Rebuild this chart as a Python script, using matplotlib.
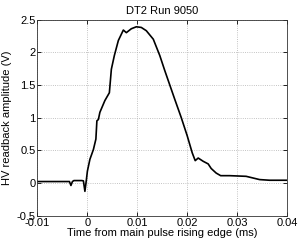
import matplotlib
matplotlib.use("Agg")
import matplotlib.pyplot as plt

plt.rcParams.update({
    "font.family": ["Liberation Sans", "DejaVu Sans"],
    "font.size": 8,
})

# readback trace (time in ms, amplitude in V)
time_ms = [-0.01, -0.0036, -0.0033, -0.0030, -0.0027, -0.0011, -0.0008,
           -0.0005, -0.0002, 0.0, 0.0005, 0.0012, 0.0017, 0.0019, 0.0022,
           0.0025, 0.0035, 0.0044, 0.0048, 0.0054, 0.0062, 0.0072, 0.0078,
           0.0088, 0.0098, 0.0108, 0.0118, 0.0132, 0.0145, 0.0155, 0.0175,
           0.0188, 0.0200, 0.0210, 0.0216, 0.0222, 0.0232, 0.0242, 0.0248,
           0.0258, 0.0267, 0.0285, 0.0318, 0.0345, 0.0365, 0.0400]
amp_v = [0.02, 0.02, -0.04, 0.02, 0.035, 0.035, 0.03,
         -0.13, 0.05, 0.18, 0.36, 0.51, 0.67, 0.95, 0.97,
         1.08, 1.26, 1.38, 1.74, 1.95, 2.18, 2.34, 2.30,
         2.36, 2.39, 2.38, 2.33, 2.20, 1.95, 1.72, 1.28,
         1.00, 0.72, 0.46, 0.34, 0.38, 0.33, 0.29, 0.22,
         0.15, 0.11, 0.11, 0.10, 0.05, 0.04, 0.04]

x_ticks = [-0.01, 0, 0.01, 0.02, 0.03, 0.04]
x_labels = ["-0.01", "0", "0.01", "0.02", "0.03", "0.04"]
y_ticks = [-0.5, 0, 0.5, 1, 1.5, 2, 2.5]
y_labels = ["-0.5", "0", "0.5", "1", "1.5", "2", "2.5"]

fig = plt.figure(figsize=(2.99, 2.42), dpi=100)
ax = fig.add_axes([0.1254, 0.1095, 0.8346, 0.8095])

ax.plot(time_ms, amp_v, color="black", linewidth=1.2)

ax.set_xlim(-0.01, 0.04)
ax.set_ylim(-0.5, 2.5)
ax.set_xticks(x_ticks)
ax.set_xticklabels(x_labels)
ax.set_yticks(y_ticks)
ax.set_yticklabels(y_labels)

ax.tick_params(direction="in", length=3, width=0.6, top=True, right=True,
               pad=1.5, labelsize=8)
ax.grid(True, linestyle=":", color="#b0b0b0", linewidth=0.6)
for sp in ax.spines.values():
    sp.set_linewidth(0.6)
    sp.set_color("#333333")

ax.set_title("DT2 Run 9050", fontsize=8, pad=4)
ax.set_xlabel("Time from main pulse rising edge (ms)", fontsize=8, labelpad=0)
ax.set_ylabel("HV readback amplitude (V)", fontsize=8, labelpad=3)

fig.savefig("out.png", dpi=100)
